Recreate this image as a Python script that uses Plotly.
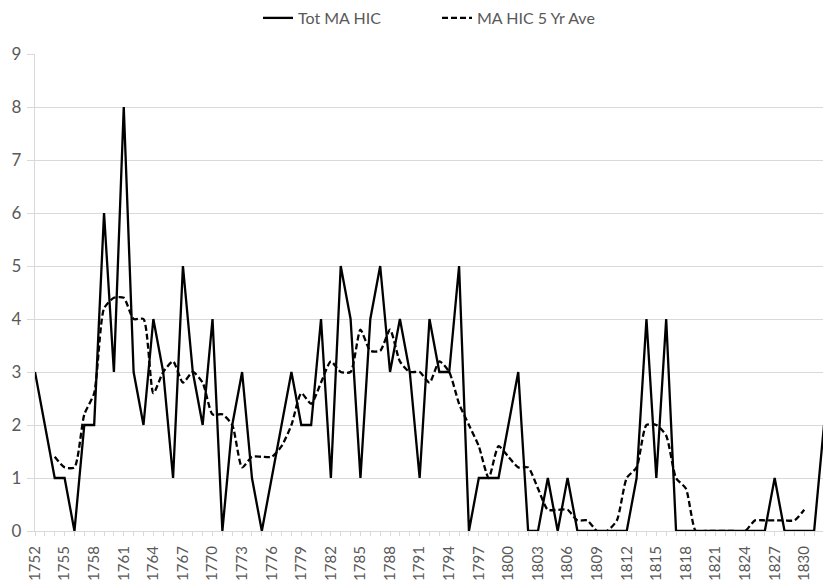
import plotly.graph_objects as go

years = list(range(1752, 1833))
tot_ma_hic = [3, 2, 1, 1, 0, 2, 2, 6, 3, 8,   # 1752-1761
              3, 2, 4, 3, 1, 5, 3, 2, 4, 0,   # 1762-1771
              2, 3, 1, 0, 1, 2, 3, 2, 2, 4,   # 1772-1781
              1, 5, 4, 1, 4, 5, 3, 4, 3, 1,   # 1782-1791
              4, 3, 3, 5, 0, 1, 1, 1, 2, 3,   # 1792-1801
              0, 0, 1, 0, 1, 0, 0, 0, 0, 0,   # 1802-1811
              0, 1, 4, 1, 4, 0, 0, 0, 0, 0,   # 1812-1821
              0, 0, 0, 0, 0, 1, 0, 0, 0, 0,   # 1822-1831
              2]                               # 1832

ave_years = list(range(1754, 1831))
ma_hic_5yr = [1.4, 1.2, 1.2, 2.2, 2.6, 4.2, 4.4, 4.4,          # 1754-1761
              4.0, 4.0, 2.6, 3.0, 3.2, 2.8, 3.0, 2.8, 2.2, 2.2,  # 1762-1771
              2.0, 1.2, 1.4, 1.4, 1.4, 1.6, 2.0, 2.6, 2.4, 2.8,  # 1772-1781
              3.2, 3.0, 3.0, 3.8, 3.4, 3.4, 3.8, 3.2, 3.0, 3.0,  # 1782-1791
              2.8, 3.2, 3.0, 2.4, 2.0, 1.6, 1.0, 1.6, 1.4, 1.2,  # 1792-1801
              1.2, 0.8, 0.4, 0.4, 0.4, 0.2, 0.2, 0.0, 0.0, 0.2,  # 1802-1811
              1.0, 1.2, 2.0, 2.0, 1.8, 1.0, 0.8, 0.0, 0.0, 0.0,  # 1812-1821
              0.0, 0.0, 0.0, 0.2, 0.2, 0.2, 0.2, 0.2, 0.4]       # 1822-1830

x_tick_years = list(range(1752, 1831, 3))
x_tick_labels = [str(y) for y in x_tick_years]
y_ticks = list(range(0, 10))

FONT = "Lato"
GREY_TXT = "#595959"
GRID = "#d9d9d9"

fig = go.Figure()
fig.add_trace(go.Scatter(
    x=years, y=tot_ma_hic, mode="lines", name="Tot MA HIC",
    line=dict(color="black", width=2.3)))
fig.add_trace(go.Scatter(
    x=ave_years, y=ma_hic_5yr, mode="lines", name="MA HIC 5 Yr Ave",
    line=dict(color="black", width=2.3, dash="6px,3px", shape="spline", smoothing=0.6)))

fig.update_layout(
    width=823, height=582,
    margin=dict(l=35, r=0, t=54, b=51, autoexpand=False),
    paper_bgcolor="white", plot_bgcolor="white",
    font=dict(family=FONT, color=GREY_TXT, size=16),
    showlegend=True,
    legend=dict(orientation="h", x=0.283, xanchor="left", y=1.0755, yanchor="middle",
                font=dict(size=16, color=GREY_TXT), bgcolor="rgba(0,0,0,0)",
                entrywidth=134, entrywidthmode="pixels"),
)
fig.update_xaxes(
    range=[1752, 1831.9], automargin=False,
    tickmode="array", tickvals=x_tick_years, ticktext=x_tick_labels,
    tickangle=-90, tickfont=dict(size=15, color=GREY_TXT, family=FONT),
    showgrid=False, zeroline=False,
    showline=True, linecolor=GRID, linewidth=1.3,
    ticks="outside", ticklen=4, tickcolor=GRID,
    minor=dict(dtick=1, ticks="outside", ticklen=4, tickcolor=GRID),
    ticklabelstandoff=4,
)
fig.update_yaxes(
    range=[0, 9], tickmode="array", tickvals=y_ticks, automargin=False,
    tickfont=dict(size=17, color=GREY_TXT, family=FONT),
    showgrid=True, gridcolor=GRID, gridwidth=1.3,
    zeroline=False, showline=True, linecolor=GRID, linewidth=1.3,
    ticks="outside", ticklen=7, tickcolor=GRID,
    ticklabelstandoff=2,
)

# remove the default 8px page margin so the 823x582 figure fills the window exactly
fig.write_html("out.html",
               config={"displayModeBar": False},
               post_script="document.body.style.margin='0';document.body.style.overflow='hidden';")
